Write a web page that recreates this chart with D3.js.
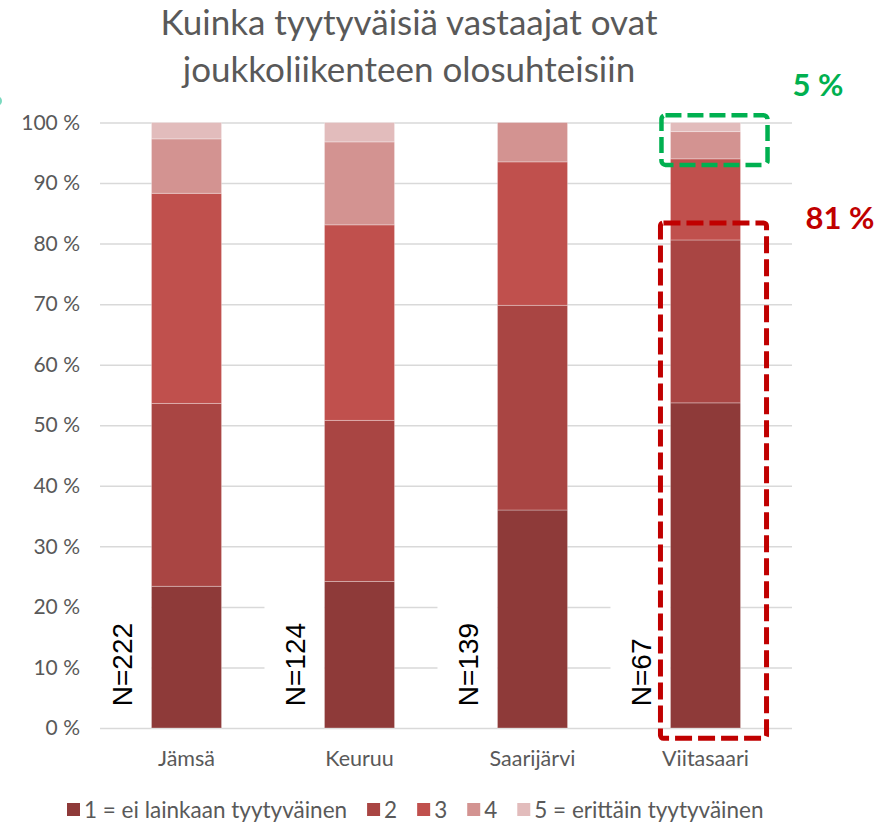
<!DOCTYPE html>
<html>
<head>
<meta charset="utf-8">
<script src="https://cdn.jsdelivr.net/npm/d3@7"></script>
<style>
  body { margin: 0; background: #fff; }
  svg { display: block; }
</style>
</head>
<body>
<div id="chart"></div>
<script>
// ---------------- DATA ----------------
const towns = ["Jämsä", "Keuruu", "Saarijärvi", "Viitasaari"];
const nCounts = ["N=222", "N=124", "N=139", "N=67"];
const levels = ["1 = ei lainkaan tyytyväinen", "2", "3", "4", "5 = erittäin tyytyväinen"];
// share of answers (%) per level 1..5
const share1 = [23.4, 24.2, 36.0, 53.7];
const share2 = [30.2, 26.6, 33.8, 26.9];
const share3 = [34.7, 32.3, 23.7, 13.4];
const share4 = [9.0, 13.7, 6.5, 4.5];
const share5 = [2.7, 3.2, 0.0, 1.5];
const yTicks = [0, 10, 20, 30, 40, 50, 60, 70, 80, 90, 100];
const titleLines = ["Kuinka tyytyväisiä vastaajat ovat", "joukkoliikenteen olosuhteisiin"];
const highlightTown = "Viitasaari";
const highTop = "5 %";
const lowTop = "81 %";

const colors = ["#8e3a39", "#a94543", "#c0504d", "#d39391", "#e2bcbc"];

// ---------------- LAYOUT ----------------
const width = 890, height = 823;
const margin = {top: 122.5, right: 98, bottom: 95, left: 100};
const font = "Lato, 'Open Sans', sans-serif";

const svg = d3.select("#chart").append("svg")
  .attr("width", width)
  .attr("height", height);

const x = d3.scaleBand()
  .domain(towns)
  .range([margin.left, width - margin.right])
  .paddingInner(0.595)
  .paddingOuter(0.2975);

const y = d3.scaleLinear()
  .domain([0, 100])
  .range([height - margin.bottom, margin.top]);

// stray teal mark at left edge
svg.append("circle")
  .attr("cx", -3).attr("cy", 101).attr("r", 5)
  .attr("fill", "#7ad9bf");

// ---------------- TITLE ----------------
svg.append("text")
  .attr("text-anchor", "middle")
  .style("font-family", font)
  .style("font-weight", 400)
  .style("font-size", "35px")
  .attr("fill", "#595959")
  .selectAll("tspan")
  .data(titleLines)
  .enter()
  .append("tspan")
  .attr("x", 409)
  .attr("y", (d, i) => 35 + i * 47)
  .text(d => d);

// ---------------- GRID ----------------
const yAxis = svg.append("g")
  .attr("transform", `translate(${margin.left},0)`)
  .call(d3.axisLeft(y)
    .tickValues(yTicks)
    .tickSize(-(width - margin.left - margin.right))
    .tickPadding(20)
    .tickFormat(d => d + " %"));
yAxis.select(".domain").remove();
yAxis.selectAll(".tick line")
  .attr("stroke", "#d9d9d9")
  .attr("stroke-width", 1.5);
yAxis.selectAll(".tick text")
  .attr("fill", "#595959")
  .style("font-family", font)
  .style("font-size", "21px");

// ---------------- N LABELS ----------------
const nLabel = svg.append("g");
towns.forEach((t, i) => {
  const bx = x(t) - 19;
  nLabel.append("rect")
    .attr("x", bx - 41)
    .attr("y", y(26))
    .attr("width", 60)
    .attr("height", y(0.3) - y(26))
    .attr("fill", "#fff");
  nLabel.append("text")
    .attr("transform", `translate(${bx},${y(3.6)}) rotate(-90)`)
    .attr("text-anchor", "start")
    .style("font-family", "'Liberation Sans', Arial, sans-serif")
    .style("font-size", "28px")
    .attr("fill", "#000")
    .text(nCounts[i]);
});

// ---------------- BARS ----------------
const table = towns.map((t, i) => ({
  town: t, s1: share1[i], s2: share2[i], s3: share3[i], s4: share4[i], s5: share5[i]
}));
const stack = d3.stack().keys(["s1", "s2", "s3", "s4", "s5"]);
const series = stack(table);

svg.append("g")
  .selectAll("g")
  .data(series)
  .enter()
  .append("g")
  .attr("fill", (d, i) => colors[i])
  .selectAll("rect")
  .data(d => d.filter(p => p[1] - p[0] > 0))
  .enter()
  .append("rect")
  .attr("x", d => x(d.data.town))
  .attr("y", d => y(d[1]))
  .attr("width", x.bandwidth())
  .attr("height", d => y(d[0]) - y(d[1]))
  .attr("stroke", "rgba(255,255,255,0.3)")
  .attr("stroke-width", 1);

// ---------------- CATEGORY LABELS ----------------
svg.append("g")
  .selectAll("text")
  .data(towns)
  .enter()
  .append("text")
  .attr("x", d => x(d) + x.bandwidth() / 2)
  .attr("y", 766)
  .attr("text-anchor", "middle")
  .attr("fill", "#595959")
  .style("font-family", font)
  .style("font-size", "21.5px")
  .text(d => d);

// ---------------- HIGHLIGHT BOXES ----------------
const hx = x(highlightTown);
svg.append("rect")
  .attr("x", hx - 9)
  .attr("y", y(101.2))
  .attr("width", x.bandwidth() + 36)
  .attr("height", y(93.0) - y(101.2))
  .attr("rx", 4)
  .attr("fill", "none")
  .attr("stroke", "#00b050")
  .attr("stroke-width", 4.5)
  .attr("stroke-dasharray", "16,6");

svg.append("rect")
  .attr("x", hx - 10)
  .attr("y", y(83.4))
  .attr("width", x.bandwidth() + 36)
  .attr("height", y(-1.7) - y(83.4))
  .attr("rx", 3)
  .attr("fill", "none")
  .attr("stroke", "#c00000")
  .attr("stroke-width", 5)
  .attr("stroke-dasharray", "17,6");

svg.append("text")
  .attr("x", 818)
  .attr("y", 96)
  .attr("text-anchor", "middle")
  .attr("fill", "#00b050")
  .style("font-family", font)
  .style("font-weight", 700)
  .style("font-size", "31px")
  .text(highTop);

svg.append("text")
  .attr("x", 840)
  .attr("y", 229)
  .attr("text-anchor", "middle")
  .attr("fill", "#c00000")
  .style("font-family", font)
  .style("font-weight", 700)
  .style("font-size", "31px")
  .text(lowTop);

// ---------------- LEGEND ----------------
const legend = svg.append("g").attr("transform", "translate(67,818)");
let lx = 0;
levels.forEach((l, i) => {
  const item = legend.append("g").attr("transform", `translate(${lx},0)`);
  item.append("rect")
    .attr("x", 0).attr("y", -15)
    .attr("width", 13).attr("height", 13)
    .attr("fill", colors[i]);
  const t = item.append("text")
    .attr("x", 17)
    .attr("fill", "#595959")
    .style("font-family", font)
    .style("font-size", "22.5px")
    .text(l);
  lx += 17 + t.node().getComputedTextLength() + 20;
});
</script>
</body>
</html>
